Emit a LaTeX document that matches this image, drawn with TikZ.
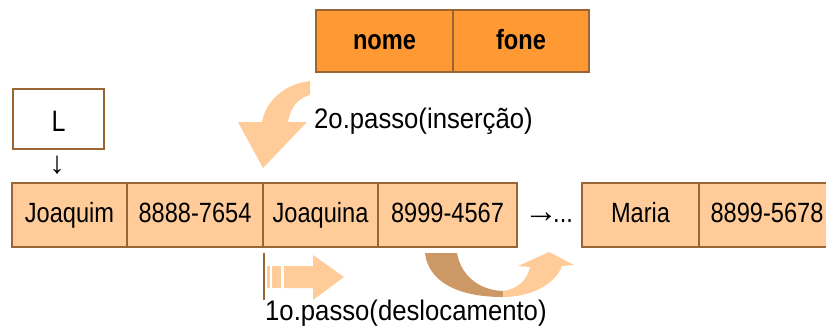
\documentclass[tikz,border=0pt]{standalone}
\usepackage{fontspec}
\setmainfont{Liberation Sans}
\definecolor{peach}{HTML}{FFCC99}
\definecolor{orng}{HTML}{FF9933}
\definecolor{brd}{HTML}{996633}
\definecolor{darktan}{HTML}{CC9966}
\newcommand\cellfont{\fontsize{23.6}{28}\selectfont}
\newcommand\stepfont{\fontsize{25.7}{30}\selectfont}
\newcommand\tallt[1]{\scalebox{1}[1.18]{#1}}
\begin{document}
\begin{tikzpicture}[x=1pt,y=-1pt,
  box/.style={draw=brd, line width=2pt, inner sep=0pt, text height=19.5pt, text depth=4pt},
  cell/.style={box, fill=peach, minimum height=64pt, font=\cellfont},
  headcell/.style={box, fill=orng, minimum height=62pt, text height=21.5pt, font=\cellfont\bfseries},
  steplabel/.style={inner sep=0pt, anchor=base west, font=\stepfont},
  plain/.style={inner sep=0pt, font=\cellfont}]
\useasboundingbox (0,0) rectangle (826,325);

% new record (nome | fone)
\node[headcell, minimum width=137pt] (nome) at (384.5,41) {\tallt{nome}};
\node[headcell, minimum width=136pt] (fone) at (521,41) {\tallt{fone}};

% list head pointer
\node[box, fill=white, minimum width=91pt, minimum height=60pt,
      text height=29pt, text depth=3.6pt, font=\fontsize{25}{30}\selectfont] (L) at (58.5,119) {\tallt{L}};
\node[plain, font=\fontsize{31}{34}\selectfont] (down) at (57,165) {↓};

% list cells
\node[cell, minimum width=115pt] (c1) at (69.5,215) {\tallt{Joaquim}};
\node[cell, minimum width=136pt] (c2) at (195,215) {\tallt{8888-7654}};
\node[cell, minimum width=115pt] (c3) at (320.5,215) {\tallt{Joaquina}};
\node[cell, minimum width=139pt] (c4) at (447.5,215) {\tallt{8999-4567}};
\node[plain, anchor=base west] (more) at (524,222)
  {{\fontsize{34}{36}\selectfont →}\kern-5pt\tallt{...}};
\node[cell, minimum width=117pt] (m1) at (640.5,215) {\tallt{Maria}};
\node[cell, minimum width=136pt] (m2) at (767,215) {\tallt{8899-5678}};

% step 2: insertion arrow
\fill[peach] (310,81) .. controls (285,84) and (266,100) .. (262,122)
  -- (238,122) -- (263,168) -- (307,122) -- (288,122)
  .. controls (290,108) and (298,98) .. (310,95) -- cycle;
\node[steplabel] (ins) at (314,128) {\scalebox{1}[1.1]{2o.passo(inserção)}};

% step 1: shift arrow
\draw[brd, line width=1.5pt] (264,253) -- (264,300);
\fill[peach] (267,266) rectangle (270,288);
\fill[peach] (272,266) rectangle (281,288);
\fill[peach] (284,266) -- (313,266) -- (313,255) -- (344,277) -- (313,300)
  -- (313,288) -- (284,288) -- cycle;
\node[steplabel] (desl) at (265,320) {\scalebox{1}[1.1]{1o.passo(deslocamento)}};

% U-turn arrow under the last cells
\fill[darktan] (425,253) -- (457,253) .. controls (461,275) and (478,290) .. (503,291)
  -- (503,297) .. controls (455,297) and (428,280) .. cycle;
\fill[peach] (503,291) .. controls (518,289) and (527,280) .. (530,267)
  -- (518,266) -- (549,252) -- (574,265) -- (562,266)
  .. controls (555,285) and (530,297) .. (503,297) -- cycle;
\end{tikzpicture}
\end{document}
